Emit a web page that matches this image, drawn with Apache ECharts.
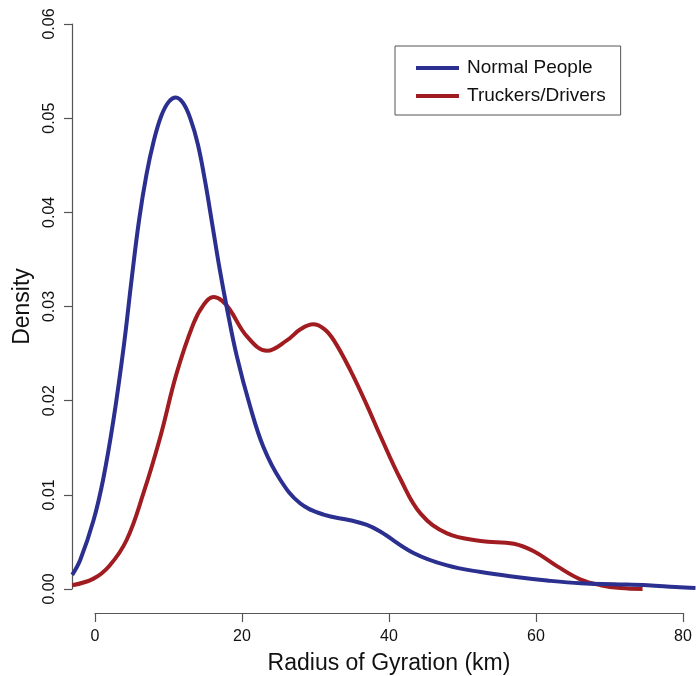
<!DOCTYPE html>
<html>
<head>
<meta charset="utf-8">
<script src="https://cdn.jsdelivr.net/npm/echarts@6/dist/echarts.min.js"></script>
<style>html,body{margin:0;padding:0;background:#fff}#c{width:696px;height:676px}</style>
</head>
<body>
<div id="c"></div>
<script>
const seriesNames = ['Normal People', 'Truckers/Drivers'];
const xTicks = [0, 20, 40, 60, 80];
const yTicks = [0, 0.01, 0.02, 0.03, 0.04, 0.05, 0.06];

const normalX = [-3.1, -2.0, -0.2, 1.1, 2.5, 3.9, 5.0, 6.0, 7.0, 8.0, 9.0, 10.0, 11.0, 12.0, 13.0, 14.0, 15.0, 16.0, 17.0, 18.0, 19.3, 21.1, 22.9, 25.2, 27.9, 31.1, 34.7, 37.0, 38.8, 43.4, 47.9, 52.5, 57.0, 61.5, 66.1, 70.6, 75.2, 79.0, 81.7];
const normalY = [0.0015, 0.0031, 0.0073, 0.0116, 0.0179, 0.0257, 0.0330, 0.0392, 0.0440, 0.0476, 0.0502, 0.0517, 0.0522, 0.0516, 0.0499, 0.0472, 0.0432, 0.0385, 0.0338, 0.0296, 0.0247, 0.0194, 0.0151, 0.0116, 0.0091, 0.0079, 0.0073, 0.0068, 0.0061, 0.0038, 0.0025, 0.0018, 0.0013, 0.0009, 0.0006, 0.0005, 0.0004, 0.0002, 0.0001];

const truckX = [-3.1, -0.2, 2.0, 4.3, 6.6, 8.9, 11.1, 13.4, 14.8, 16.1, 17.3, 18.4, 20.7, 23.4, 26.1, 28.0, 29.7, 31.2, 32.5, 34.7, 37.0, 38.8, 41.6, 44.3, 47.9, 52.5, 57.0, 59.7, 62.9, 66.1, 68.8, 71.5, 74.5];
const truckY = [0.0004, 0.0011, 0.0025, 0.0052, 0.0102, 0.0162, 0.0229, 0.0282, 0.0302, 0.0310, 0.0306, 0.0296, 0.0268, 0.0253, 0.0264, 0.0276, 0.0281, 0.0276, 0.0264, 0.0233, 0.0195, 0.0163, 0.0116, 0.0080, 0.0059, 0.0051, 0.0048, 0.0040, 0.0024, 0.0010, 0.0004, 0.0001, 0.0000];

// plot-region data range (R-style 4% extension, right side cropped by the image)
const xRange = [-3.13, 81.77];
const yRange = [-0.00255, 0.06244];

const pair = (xs, ys) => xs.map((x, i) => [x, ys[i]]);
const FONT = 'Liberation Sans';
const axisColor = '#555';
const hiddenAxis = {show: false, axisLine: {show: false, onZero: false}, axisTick: {show: false}, axisLabel: {show: false}, splitLine: {show: false}};

const chart = echarts.init(document.getElementById('c'), null, {renderer: 'canvas'});
chart.setOption({
  animation: false,
  backgroundColor: '#fff',
  textStyle: {fontFamily: FONT},
  grid: [
    {left: 72, right: 0, top: 1, bottom: 63, containLabel: false, outerBoundsMode: 'none'},
    {left: 95, right: 13, top: 24, bottom: 87, containLabel: false, outerBoundsMode: 'none'}
  ],
  legend: {
    orient: 'vertical',
    left: 395, top: 46,
    padding: [11, 15, 8, 21],
    itemGap: 6,
    itemWidth: 43, itemHeight: 4,
    icon: 'rect',
    borderColor: axisColor, borderWidth: 1,
    textStyle: {fontFamily: FONT, fontSize: 19, color: '#111', lineHeight: 22, padding: [0, 0, 0, 3]},
    data: seriesNames
  },
  xAxis: [
    Object.assign({type: 'value', gridIndex: 0, min: xRange[0], max: xRange[1]}, hiddenAxis),
    {
      type: 'value', gridIndex: 1, min: xTicks[0], max: xTicks[xTicks.length - 1], interval: 20,
      offset: 24,
      name: 'Radius of Gyration (km)', nameLocation: 'middle', nameGap: 39,
      nameTextStyle: {fontFamily: FONT, fontSize: 23, color: '#111'},
      axisLine: {show: true, onZero: false, lineStyle: {color: axisColor, width: 1.2}},
      axisTick: {show: true, length: 9, lineStyle: {color: axisColor, width: 1.2}},
      axisLabel: {fontFamily: FONT, fontSize: 16, color: '#111', margin: 16, showMinLabel: true, showMaxLabel: true},
      splitLine: {show: false}
    }
  ],
  yAxis: [
    Object.assign({type: 'value', gridIndex: 0, min: yRange[0], max: yRange[1]}, hiddenAxis),
    {
      type: 'value', gridIndex: 1, min: yTicks[0], max: yTicks[yTicks.length - 1], interval: 0.01,
      offset: 23,
      name: 'Density', nameLocation: 'middle', nameGap: 38,
      nameTextStyle: {fontFamily: FONT, fontSize: 23, color: '#111'},
      axisLine: {show: true, onZero: false, lineStyle: {color: axisColor, width: 1.2}},
      axisTick: {show: true, length: 8, lineStyle: {color: axisColor, width: 1.2}},
      axisLabel: {fontFamily: FONT, fontSize: 16, color: '#111', rotate: 90, margin: 14,
        formatter: v => v.toFixed(2), showMinLabel: true, showMaxLabel: true},
      splitLine: {show: false}
    }
  ],
  series: [
    {name: seriesNames[0], type: 'line', xAxisIndex: 0, yAxisIndex: 0, data: pair(normalX, normalY), smooth: 0.4, showSymbol: false,
      lineStyle: {color: '#2b2f8f', width: 4}, itemStyle: {color: '#2b2f8f'}, z: 3},
    {name: seriesNames[1], type: 'line', xAxisIndex: 0, yAxisIndex: 0, data: pair(truckX, truckY), smooth: 0.4, showSymbol: false,
      lineStyle: {color: '#a01c20', width: 4}, itemStyle: {color: '#a01c20'}, z: 2}
  ]
});
</script>
</body>
</html>
